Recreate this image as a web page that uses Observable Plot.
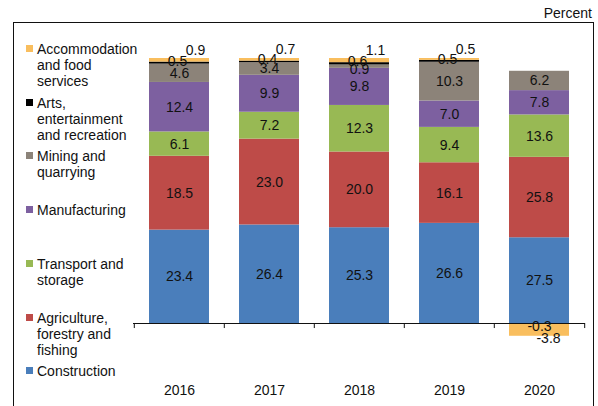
<!DOCTYPE html>
<html>
<head>
<meta charset="utf-8">
<script src="https://cdn.jsdelivr.net/npm/d3@7"></script>
<script src="https://cdn.jsdelivr.net/npm/@observablehq/plot@0.6"></script>
<style>
  html, body { margin: 0; padding: 0; background: #fff; }
  #wrap { position: relative; width: 598px; height: 406px; overflow: hidden; font-family: "Liberation Sans", Arial, sans-serif; color: #111; }
  #frame { position: absolute; left: 13px; top: 22px; width: 579px; height: 400px; border: 1px solid #111; border-bottom: none; }
  #unit { position: absolute; right: 6px; top: 5px; font-size: 14px; line-height: 16px; }
  .leg { position: absolute; left: 26px; font-size: 14px; line-height: 16px; }
  .leg .sw { position: absolute; left: 0; top: 4px; width: 7px; height: 7px; }
  .leg .tx { position: absolute; left: 11px; top: 0; white-space: nowrap; }
  #chart { position: absolute; left: 0; top: 0; }
</style>
</head>
<body>
<div id="wrap">
  <div id="frame"></div>
  <div id="chart"></div>
  <div id="unit">Percent</div>
</div>
<script>
const years = ["2016", "2017", "2018", "2019", "2020"];
const sectors = [
  "Construction",
  "Agriculture, forestry and fishing",
  "Transport and storage",
  "Manufacturing",
  "Mining and quarrying",
  "Arts, entertainment and recreation",
  "Accommodation and food services"
];
const legendLabels = [
  ["Construction"],
  ["Agriculture,", "forestry and", "fishing"],
  ["Transport and", "storage"],
  ["Manufacturing"],
  ["Mining and", "quarrying"],
  ["Arts,", "entertainment", "and recreation"],
  ["Accommodation", "and food", "services"]
];
const colors = ["#4a7ebb", "#be4b48", "#98b954", "#7d60a0", "#8c8379", "#000000", "#f9be5e"];

const construction = [23.4, 26.4, 25.3, 26.6, 27.5];
const agriculture = [18.5, 23.0, 20.0, 16.1, 25.8];
const transport = [6.1, 7.2, 12.3, 9.4, 13.6];
const manufacturing = [12.4, 9.9, 9.8, 7.0, 7.8];
const mining = [4.6, 3.4, 0.9, 10.3, 6.2];
const arts = [0.5, 0.4, 0.6, 0.5, -0.3];
const accommodation = [0.9, 0.7, 1.1, 0.5, -3.8];

const series = [construction, agriculture, transport, manufacturing, mining, arts, accommodation];

// bars show each sector's share of the year's total (absolute), labels show the values
const rows = [];
years.forEach((year, j) => {
  const total = d3.sum(series, s => Math.abs(s[j]));
  series.forEach((s, i) => {
    rows.push({year, sector: sectors[i], value: s[j], share: s[j] / total * 100});
  });
});

const small = new Set([sectors[5], sectors[6]]);
const font = "Liberation Sans, Arial, sans-serif";
const step = (598 - 133 - 13) / 5;
const lab = (test, extra) => Plot.text(rows, Plot.stackY({x: "year", y: "share",
  text: d => test(d) ? d.value.toFixed(1) : "",
  fontSize: 14, fontFamily: font, fill: "#111", ...extra}));

const plot = Plot.plot({
  width: 598,
  height: 406,
  marginLeft: 133,
  marginRight: 13,
  marginTop: 5,
  marginBottom: 24.7,
  style: {fontFamily: font, fontSize: "14px", color: "#111", background: "transparent", overflow: "visible"},
  x: {type: "band", domain: years, paddingInner: 0.33, paddingOuter: 0.165, tickSize: 0, tickPadding: 3, label: null},
  y: {domain: [-22, 120], axis: null},
  color: {domain: sectors, range: colors},
  marks: [
    Plot.barY(rows, Plot.stackY({x: "year", y: "share", fill: "sector"})),
    Plot.ruleY([0], {stroke: "#111", strokeWidth: 1}),
    Plot.ruleX(years, {x: d => d, y1: 0, y2: -1.9, dx: -step / 2, stroke: "#111"}),
    Plot.ruleX(years.slice(-1), {x: d => d, y1: 0, y2: -1.9, dx: step / 2, stroke: "#111"}),
    lab(d => !small.has(d.sector) && Math.abs(d.share) >= 2, {}),
    lab(d => !small.has(d.sector) && Math.abs(d.share) < 2, {dy: 3}),
    lab(d => d.sector === sectors[5] && d.value > 0, {dx: -2, dy: -2}),
    lab(d => d.sector === sectors[5] && d.value < 0, {dy: 3}),
    lab(d => d.sector === sectors[6] && d.value > 0, {dx: 16, dy: -10}),
    lab(d => d.sector === sectors[6] && d.value < 0, {dx: 9, dy: 8})
  ]
});
document.getElementById("chart").appendChild(plot);

// legend (top-to-bottom reverses stack order)
const wrap = document.getElementById("wrap");
const order = d3.range(sectors.length).reverse();
order.forEach((i, k) => {
  const item = document.createElement("div");
  item.className = "leg";
  item.style.top = (41 + 53.7 * k) + "px";
  const sw = document.createElement("div");
  sw.className = "sw";
  sw.style.background = colors[i];
  const tx = document.createElement("div");
  tx.className = "tx";
  tx.innerHTML = legendLabels[i].join("<br>");
  item.appendChild(sw);
  item.appendChild(tx);
  wrap.appendChild(item);
});
</script>
</body>
</html>
